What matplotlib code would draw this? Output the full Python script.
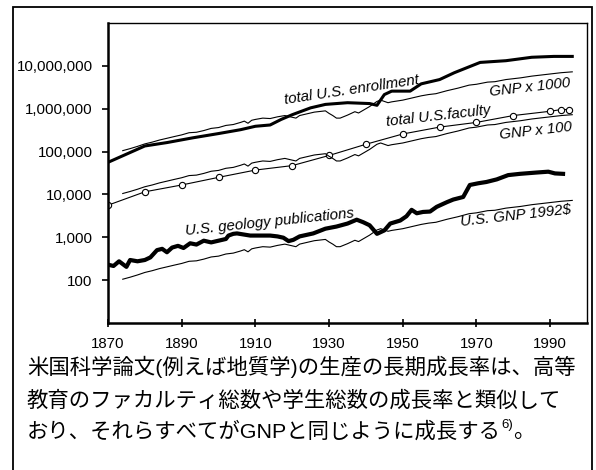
import numpy as np
from matplotlib import pyplot as plt
from matplotlib.ticker import FuncFormatter, MultipleLocator
from matplotlib.patches import Rectangle

# ------------ data
enroll_years = [1870, 1880, 1886, 1893, 1900, 1906, 1910, 1914, 1917, 1920, 1925, 1929,
                1935, 1941, 1943, 1945, 1947, 1952, 1955, 1960, 1964, 1971, 1978, 1985,
                1991, 1996]
enrollment = [56000, 135000, 162000, 209000, 263000, 324000, 389000, 417000, 562000,
              724000, 1047000, 1259000, 1380000, 1318000, 1200000, 2138000, 2570000,
              2570000, 3800000, 4786000, 6918000, 12020000, 13180000, 15850000,
              16600000, 16600000]

faculty_years = [1870, 1880, 1890, 1900, 1910, 1920, 1930, 1940, 1950, 1960, 1970, 1980,
                 1990, 1993, 1995]
faculty = [5600, 11500, 16600, 25000, 37000, 47000, 81000, 148000, 257000, 372000,
           479000, 692000, 871000, 955000, 955000]

gnp_years = [1874, 1876, 1878, 1880, 1882, 1884, 1886, 1888, 1890, 1892, 1894, 1896,
             1898, 1900, 1902, 1904, 1906, 1907, 1908, 1909, 1910, 1912, 1914, 1916,
             1918, 1920, 1921, 1922, 1924, 1926, 1929, 1930, 1931, 1932, 1933, 1935,
             1937, 1938, 1939, 1941, 1943, 1944, 1946, 1947, 1950, 1952, 1955, 1957,
             1959, 1962, 1965, 1968, 1970, 1973, 1975, 1978, 1980, 1982, 1985, 1988,
             1990, 1993, 1996]
gnp = [105, 117, 132, 151, 166, 186, 204, 224, 245, 275, 282, 309, 347, 363, 407, 427,
       479, 513, 457, 537, 562, 603, 589, 646, 692, 631, 603, 692, 759, 832, 891, 776,
       692, 603, 603, 708, 851, 794, 891, 1122, 1479, 1585, 1380, 1445, 1585, 1738,
       1995, 2138, 2239, 2630, 3020, 3548, 3715, 4169, 4266, 4786, 5012, 5248, 5754,
       6166, 6457, 6918, 7244]

geo_years = [1870.5, 1871.5, 1873, 1875, 1876, 1878, 1880, 1881.5, 1883.3, 1884.7, 1886,
             1887.4, 1889, 1890.5, 1892.3, 1894, 1896, 1898, 1900, 1902, 1902.7, 1904,
             1905, 1908.6, 1911, 1914, 1916, 1917.6, 1919, 1920.3, 1922, 1925.7, 1929,
             1932, 1935, 1937.5, 1939.3, 1941, 1943, 1945, 1946.6, 1949.3, 1951, 1952.4,
             1953.8, 1955.5, 1957.4, 1959.2, 1962, 1963.7, 1966.4, 1968.2, 1970.5,
             1972.7, 1975.5, 1978.6, 1981.8, 1986.3, 1989.5, 1991.3, 1993.5]
geology = [224, 214, 275, 204, 295, 275, 295, 339, 501, 537, 447, 575, 631, 562, 724,
           676, 832, 759, 832, 912, 1096, 1202, 1230, 1096, 1096, 1096, 1047, 977, 813,
           871, 1047, 1230, 1585, 1778, 2089, 2570, 2239, 1905, 1202, 1445, 2089, 2455,
           3090, 4365, 3631, 3900, 3981, 5129, 6607, 7586, 8710, 16600, 18200, 19500,
           22400, 28200, 30200, 32400, 33900, 30900, 30200]

xticks = [1870, 1890, 1910, 1930, 1950, 1970, 1990]
yticks = [100, 1000, 10000, 100000, 1000000, 10000000]

caption = ['米国科学論文(例えば地質学)の生産の長期成長率は、高等',
           '教育のファカルティ総数や学生総数の成長率と類似して',
           'おり、それらすべてがGNPと同じように成長する']

plt.rcParams['font.family'] = ['Liberation Sans', 'Noto Sans CJK JP']

fig = plt.figure(figsize=(5.96, 4.70), dpi=100, facecolor='white')
ax = fig.add_axes([0.1812, 0.3128, 0.8037, 0.6383])

gnp = np.array(gnp)
ax.plot(enroll_years, enrollment, color='black', lw=2.2)
ax.plot(gnp_years, gnp * 1000, color='black', lw=0.8)
ax.plot(faculty_years, faculty, color='black', lw=0.8, marker='o', ms=4.5,
        mfc='white', mec='black', mew=0.8)
ax.plot(gnp_years, gnp * 100, color='black', lw=0.8)
ax.plot(geo_years, geology, color='black', lw=3.0)
ax.plot(gnp_years, gnp, color='black', lw=0.8)

ax.set_yscale('log')
ax.set_xlim(1870, 2000)
ax.set_ylim(10, 1e8)
ax.set_yticks(yticks)
ax.yaxis.set_minor_locator(plt.NullLocator())
ax.yaxis.set_major_formatter(FuncFormatter(lambda v, _: f'{v:,.0f}'))
ax.set_xticks(xticks)
ax.xaxis.set_minor_locator(MultipleLocator(20, offset=10))
ax.tick_params(axis='y', direction='out', length=4, width=1.2, labelsize=10.8, pad=7)
ax.tick_params(axis='x', which='major', direction='inout', length=6, width=1.2,
               labelsize=10.8, pad=7)
ax.tick_params(axis='x', which='minor', direction='in', length=3, width=1.0)
for side in ['left', 'bottom']:
    ax.spines[side].set_linewidth(1.8)
for side in ['top', 'right']:
    ax.spines[side].set_linewidth(1.0)

lab = dict(fontsize=10.8, style='italic', ha='center', va='center',
           rotation_mode='anchor')
ax.text(1936, 2.8e6, 'total U.S. enrollment', rotation=8.5, **lab)
ax.text(1984.6, 3.2e6, 'GNP x 1000', rotation=6.5, **lab)
ax.text(1959.6, 6.6e5, 'total U.S.faculty', rotation=6.5, **lab)
ax.text(1986.1, 3.1e5, 'GNP x 100', rotation=6.5, **lab)
ax.text(1913.8, 2240, 'U.S. geology publications', rotation=6, **lab)
ax.text(1980.7, 3100, 'U.S. GNP 1992$', rotation=6.5, **lab)

# ------------ caption below
fs = 15.4
fig.text(0.0453, 0.219, caption[0], fontsize=fs, va='center')
fig.text(0.0453, 0.149, caption[1], fontsize=fs, va='center')
t3 = fig.text(0.0453, 0.083, caption[2], fontsize=fs, va='center')
sup = ax.annotate('6)', xy=(1, 0.5), xycoords=t3, fontsize=9.5, va='bottom', ha='left',
                  annotation_clip=False)
ax.annotate('。', xy=(1, 0), xycoords=(sup, t3), fontsize=fs, va='bottom', ha='left',
            annotation_clip=False)

# outer frame
fig.add_artist(Rectangle((13 / 596, -0.02), 579 / 596, 1.005, transform=fig.transFigure,
                         fill=False, edgecolor='black', lw=1.3))

plt.savefig('out.png', dpi=100, facecolor='white')
